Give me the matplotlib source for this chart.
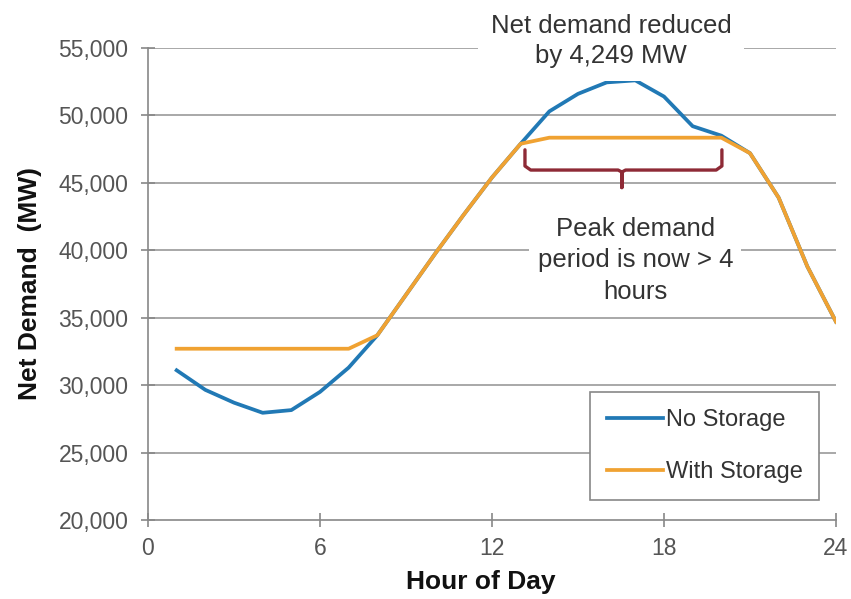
import matplotlib
matplotlib.use("Agg")
import matplotlib.pyplot as plt
from matplotlib.ticker import FuncFormatter

plt.rcParams['font.family'] = ['Liberation Sans', 'DejaVu Sans']

hours = [1, 2, 3, 4, 5, 6, 7, 8, 9, 10, 11, 12, 13, 14, 15, 16, 17, 18, 19, 20, 21, 22, 23, 24]
no_storage = [31100, 29650, 28700, 27950, 28150, 29500, 31300, 33700, 36700, 39700, 42600, 45400,
              47900, 50300, 51600, 52450, 52600, 51400, 49200, 48500, 47200, 43900, 38800, 34700]
with_storage = [32700, 32700, 32700, 32700, 32700, 32700, 32700, 33700, 36700, 39700, 42600, 45400,
                47900, 48350, 48350, 48350, 48350, 48350, 48350, 48350, 47200, 43900, 38800, 34700]
x_ticks = [0, 6, 12, 18, 24]
y_ticks = [20000, 25000, 30000, 35000, 40000, 45000, 50000, 55000]

blue = '#2179b5'
orange = '#f0a232'
grid_c = '#9a9a9a'

fig = plt.figure(figsize=(8.51, 5.99), dpi=100)
ax = fig.add_axes([148/851, 1-520/599, (836-148)/851, (520-48)/599])

for yv in y_ticks[1:]:
    ax.axhline(yv, color=grid_c, lw=1.2, zorder=0)

ax.plot(hours, no_storage, color=blue, lw=2.7, label='No Storage', zorder=3, solid_joinstyle='round')
ax.plot(hours, with_storage, color=orange, lw=2.7, label='With Storage', zorder=4, solid_joinstyle='round')

ax.set_xlim(0, 24)
ax.set_ylim(20000, 55000)
ax.set_xticks(x_ticks)
ax.set_yticks(y_ticks)
ax.yaxis.set_major_formatter(FuncFormatter(lambda v, p: f"{int(v):,}"))
ax.tick_params(axis='both', labelsize=16.5, labelcolor='#555555', color='#888888',
               direction='inout', length=10, width=1.2)
ax.tick_params(axis='y', pad=9)
ax.tick_params(axis='x', pad=7)
for s in ['top', 'right']:
    ax.spines[s].set_visible(False)
for s in ['left', 'bottom']:
    ax.spines[s].set_color('#888888')
    ax.spines[s].set_linewidth(1.2)

ax.set_xlabel('Hour of Day', fontsize=19, fontweight='bold', color='#111111', labelpad=8)
ax.xaxis.set_label_coords(0.483, -0.105)
ax.set_ylabel('Net Demand  (MW)', fontsize=19, fontweight='bold', color='#111111', labelpad=12)

# annotations
ax.text(16.15, 55500, 'Net demand reduced\nby 4,249 MW', ha='center', va='center', fontsize=18.5,
        color='#333333', linespacing=1.3, zorder=5, clip_on=False,
        bbox=dict(facecolor='white', edgecolor='none', pad=9))
ax.text(17.0, 39250, 'Peak demand\nperiod is now > 4\nhours', ha='center', va='center', fontsize=18.5,
        color='#333333', linespacing=1.4, zorder=5,
        bbox=dict(facecolor='white', edgecolor='none', pad=6))

# bracket
bx = [13.15, 13.15, 13.35, 16.4, 16.53, 16.53, 16.53, 16.66, 19.82, 20.02, 20.02]
by = [47450, 46250, 45950, 45950, 45800, 44650, 45800, 45950, 45950, 46250, 47450]
ax.plot(bx, by, color='#8e2a36', lw=2.4, zorder=5, solid_joinstyle='round', solid_capstyle='round')

leg = ax.legend(loc='lower right', bbox_to_anchor=(819/851, 1-500/599), bbox_transform=fig.transFigure,
                fontsize=17, frameon=True, fancybox=False, framealpha=1, edgecolor='#888888',
                handlelength=2.4, handletextpad=0.1, labelspacing=1.3, borderpad=0.7,
                borderaxespad=0)
leg.get_frame().set_linewidth(1.2)
for t in leg.get_texts():
    t.set_color('#333333')

fig.savefig('out.png', dpi=100)
